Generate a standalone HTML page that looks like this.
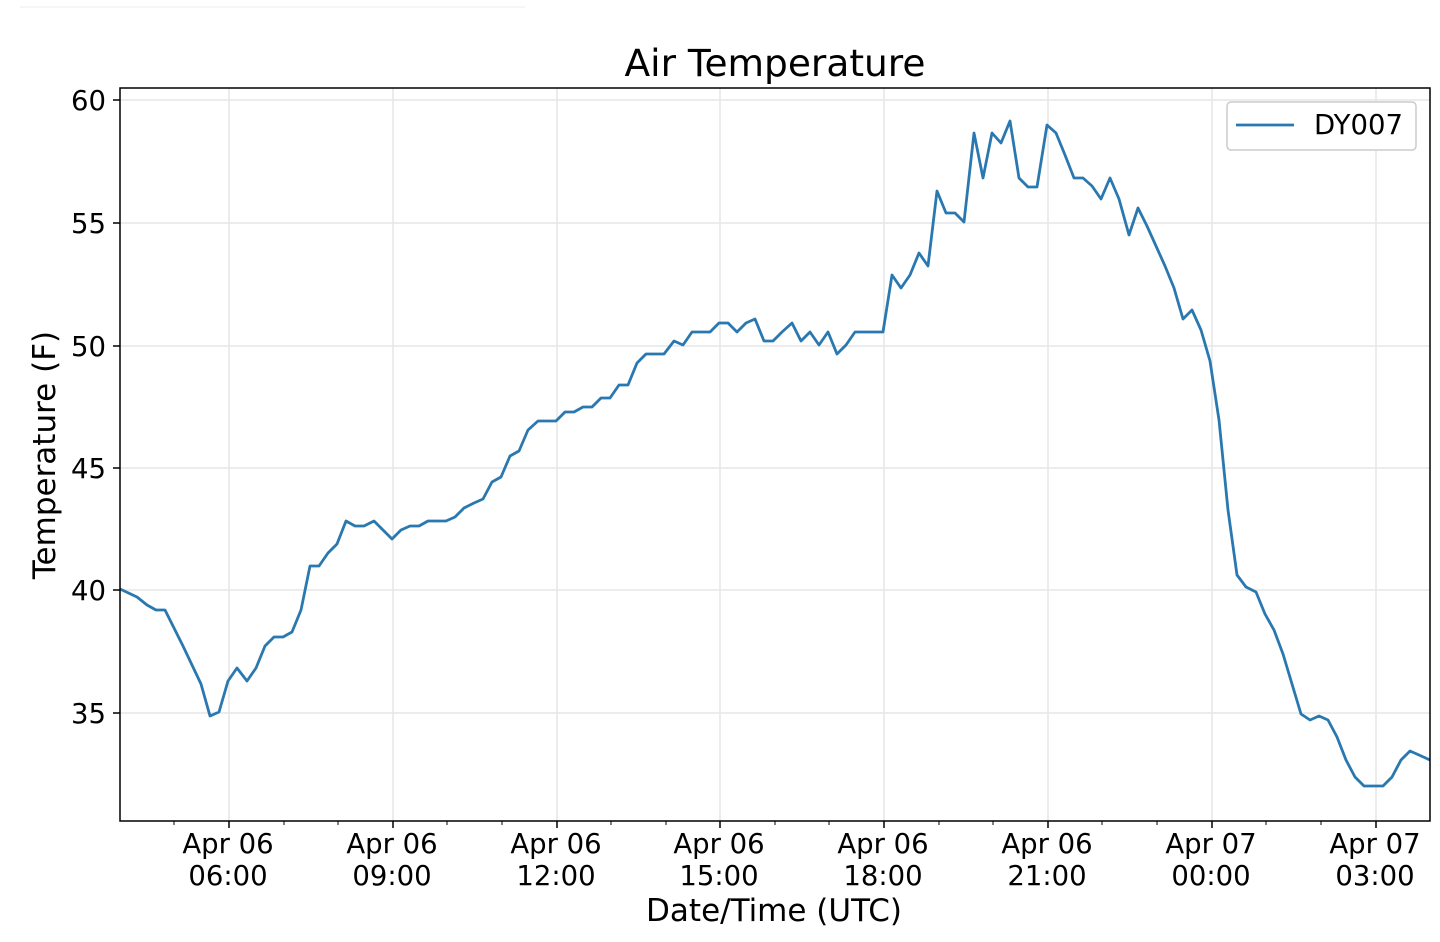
<!DOCTYPE html>
<html><head><meta charset="utf-8"><style>body{margin:0;background:#fff}svg{display:block}text{font-family:"DejaVu Sans","Liberation Sans",sans-serif;fill:#000}</style></head>
<body>
<svg width="1440" height="942" viewBox="0 0 1440 942">
<line x1="20" y1="7" x2="525" y2="7" stroke="#eee" stroke-width="1"/>
<g stroke="#e6e6e6" stroke-width="1.5">
<line x1="120" y1="100" x2="1430" y2="100"/><line x1="120" y1="223" x2="1430" y2="223"/><line x1="120" y1="346" x2="1430" y2="346"/><line x1="120" y1="468" x2="1430" y2="468"/><line x1="120" y1="590" x2="1430" y2="590"/><line x1="120" y1="713" x2="1430" y2="713"/>
<line x1="229" y1="88" x2="229" y2="821"/><line x1="393" y1="88" x2="393" y2="821"/><line x1="557" y1="88" x2="557" y2="821"/><line x1="720" y1="88" x2="720" y2="821"/><line x1="884" y1="88" x2="884" y2="821"/><line x1="1048" y1="88" x2="1048" y2="821"/><line x1="1212" y1="88" x2="1212" y2="821"/><line x1="1376" y1="88" x2="1376" y2="821"/>
</g>
<polyline fill="none" stroke="#2a78b0" stroke-width="2.8" stroke-linejoin="round" points="120,589 137,597 147,605 156,610 165,610 174,628 183,646 192,665 201,684 210,716 219,712 228,681 237,668 247,681 256,668 265,646 274,637 283,637 292,632 301,610 310,566 319,566 328,553 337,544 346,521 355,526 364,526 374,521 383,530 392,539 401,530 410,526 419,526 428,521 437,521 446,521 455,517 464,508 474,503 483,499 492,482 501,477 510,456 519,451 528,430 538,421 547,421 556,421 565,412 574,412 583,407 592,407 601,398 610,398 619,385 628,385 637,363 646,354 655,354 664,354 674,341 683,345 692,332 701,332 710,332 719,323 728,323 737,332 746,323 755,319 764,341 773,341 782,332 792,323 801,341 810,332 819,345 828,332 837,354 846,345 855,332 864,332 873,332 883,332 892,275 901,288 910,275 919,253 928,266 937,191 946,213 955,213 964,222 974,133 983,178 992,133 1001,143 1010,121 1019,178 1028,187 1037,187 1047,125 1056,133 1065,155 1074,178 1083,178 1092,186 1101,199 1110,178 1119,199 1129,235 1138,208 1147,226 1156,246 1165,266 1174,288 1183,319 1192,310 1201,330 1210,361 1219,420 1228,510 1237,575 1246,587 1256,592 1265,614 1274,630 1283,654 1292,684 1301,714 1310,720 1319,716 1328,720 1337,737 1346,760 1355,777 1364,786 1374,786 1383,786 1392,777 1401,760 1410,751 1419,755 1430,760"/>
<rect x="120" y="88" width="1310" height="733" fill="none" stroke="#000" stroke-width="1.5"/>
<g stroke="#000" stroke-width="1.5">
<line x1="113" y1="100" x2="120" y2="100"/><line x1="113" y1="223" x2="120" y2="223"/><line x1="113" y1="346" x2="120" y2="346"/><line x1="113" y1="468" x2="120" y2="468"/><line x1="113" y1="590" x2="120" y2="590"/><line x1="113" y1="713" x2="120" y2="713"/>
<line x1="229" y1="821" x2="229" y2="828"/><line x1="393" y1="821" x2="393" y2="828"/><line x1="557" y1="821" x2="557" y2="828"/><line x1="720" y1="821" x2="720" y2="828"/><line x1="884" y1="821" x2="884" y2="828"/><line x1="1048" y1="821" x2="1048" y2="828"/><line x1="1212" y1="821" x2="1212" y2="828"/><line x1="1376" y1="821" x2="1376" y2="828"/>
</g>
<g stroke="#000" stroke-width="1">
<line x1="174" y1="821" x2="174" y2="825"/><line x1="284" y1="821" x2="284" y2="825"/><line x1="338" y1="821" x2="338" y2="825"/><line x1="447" y1="821" x2="447" y2="825"/><line x1="502" y1="821" x2="502" y2="825"/><line x1="611" y1="821" x2="611" y2="825"/><line x1="666" y1="821" x2="666" y2="825"/><line x1="775" y1="821" x2="775" y2="825"/><line x1="829" y1="821" x2="829" y2="825"/><line x1="939" y1="821" x2="939" y2="825"/><line x1="993" y1="821" x2="993" y2="825"/><line x1="1102" y1="821" x2="1102" y2="825"/><line x1="1157" y1="821" x2="1157" y2="825"/><line x1="1266" y1="821" x2="1266" y2="825"/><line x1="1321" y1="821" x2="1321" y2="825"/>
</g>
<g font-size="27.5" text-anchor="end">
<text x="106" y="110">60</text><text x="106" y="233">55</text><text x="106" y="356">50</text><text x="106" y="478">45</text><text x="106" y="600">40</text><text x="106" y="723">35</text>
</g>
<g font-size="27.5" text-anchor="middle">
<text x="228" y="853">Apr 06</text><text x="228" y="885">06:00</text>
<text x="392" y="853">Apr 06</text><text x="392" y="885">09:00</text>
<text x="556" y="853">Apr 06</text><text x="556" y="885">12:00</text>
<text x="719" y="853">Apr 06</text><text x="719" y="885">15:00</text>
<text x="883" y="853">Apr 06</text><text x="883" y="885">18:00</text>
<text x="1047" y="853">Apr 06</text><text x="1047" y="885">21:00</text>
<text x="1211" y="853">Apr 07</text><text x="1211" y="885">00:00</text>
<text x="1375" y="853">Apr 07</text><text x="1375" y="885">03:00</text>
</g>
<text x="775" y="76" font-size="37.5" text-anchor="middle">Air Temperature</text>
<text x="774" y="921" font-size="31" text-anchor="middle">Date/Time (UTC)</text>
<text transform="translate(55,455) rotate(-90)" font-size="31" text-anchor="middle">Temperature (F)</text>
<rect x="1227" y="102" width="189" height="48" rx="4" fill="#fff" stroke="#ccc" stroke-width="1.5"/>
<line x1="1236" y1="125" x2="1294" y2="125" stroke="#2a78b0" stroke-width="2.8"/>
<text x="1314" y="134" font-size="27.5">DY007</text>
</svg>
</body></html>
